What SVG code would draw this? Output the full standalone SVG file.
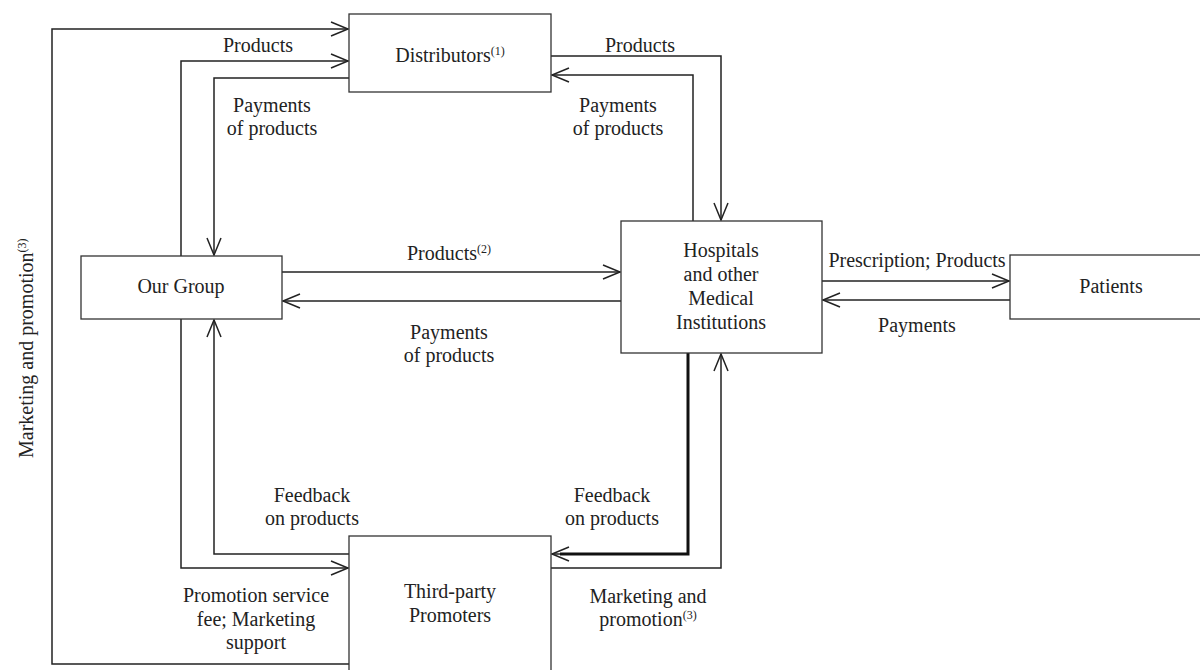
<svg xmlns="http://www.w3.org/2000/svg" width="1200" height="670" viewBox="0 0 1200 670">
<style>
.box{fill:#fff;stroke:#333;stroke-width:1.3}
.ln{fill:none;stroke:#222;stroke-width:1.5}
.thick{fill:none;stroke:#111;stroke-width:3}
text{font-family:'Liberation Serif','Times New Roman',serif;font-size:20px;fill:#222}
.c{text-anchor:middle}
.sup{font-size:12px}
</style>
<defs>
<marker id="ah" viewBox="0 0 20 16" refX="18" refY="8" markerWidth="20" markerHeight="16" markerUnits="userSpaceOnUse" orient="auto">
<path d="M1,1 L18,8 L1,15" fill="none" stroke="#222" stroke-width="1.5"/>
</marker>
</defs>
<rect width="1200" height="670" fill="#fff"/>
<g id="connectors">
<path class="ln" d="M349,664 H52 V29 H348" marker-end="url(#ah)"/>
<path class="ln" d="M181,256 V61 H348" marker-end="url(#ah)"/>
<path class="ln" d="M349,78 H214 V255" marker-end="url(#ah)"/>
<path class="ln" d="M551,56 H721 V220" marker-end="url(#ah)"/>
<path class="ln" d="M693,221 V75 H552" marker-end="url(#ah)"/>
<path class="ln" d="M282,272 H620" marker-end="url(#ah)"/>
<path class="ln" d="M621,301 H283" marker-end="url(#ah)"/>
<path class="ln" d="M822,281 H1009" marker-end="url(#ah)"/>
<path class="ln" d="M1010,300 H823" marker-end="url(#ah)"/>
<path class="ln" d="M181,319 V568 H348" marker-end="url(#ah)"/>
<path class="ln" d="M349,554 H214 V320" marker-end="url(#ah)"/>
<path class="thick" d="M688,353 V554 H560"/>
<path class="ln" d="M560,554 H552" marker-end="url(#ah)"/>
<path class="ln" d="M551,568 H721 V354" marker-end="url(#ah)"/>
</g>
<g id="labels">
<text class="c" x="258" y="52">Products</text>
<text class="c" x="272" y="112">Payments</text>
<text class="c" x="272" y="135">of products</text>
<text class="c" x="640" y="52">Products</text>
<text class="c" x="618" y="112">Payments</text>
<text class="c" x="618" y="135">of products</text>
<text class="c" x="449" y="260">Products<tspan class="sup" dy="-7">(2)</tspan></text>
<text class="c" x="449" y="339">Payments</text>
<text class="c" x="449" y="362">of products</text>
<text class="c" x="917" y="267">Prescription; Products</text>
<text class="c" x="917" y="332">Payments</text>
<text class="c" x="312" y="502">Feedback</text>
<text class="c" x="312" y="525">on products</text>
<text class="c" x="612" y="502">Feedback</text>
<text class="c" x="612" y="525">on products</text>
<text class="c" x="256" y="602">Promotion service</text>
<text class="c" x="256" y="626">fee; Marketing</text>
<text class="c" x="256" y="649">support</text>
<text class="c" x="648" y="603">Marketing and</text>
<text class="c" x="648" y="626">promotion<tspan class="sup" dy="-7">(3)</tspan></text>
<text transform="translate(33,458) rotate(-90)">Marketing and promotion<tspan class="sup" dy="-7">(3)</tspan></text>
</g>
<g id="distributors">
<rect class="box" x="349" y="14" width="202" height="78"/>
<text class="c" x="450" y="62">Distributors<tspan class="sup" dy="-7">(1)</tspan></text>
</g>
<g id="our-group">
<rect class="box" x="81" y="256" width="201" height="63"/>
<text class="c" x="181" y="293">Our Group</text>
</g>
<g id="hospitals">
<rect class="box" x="621" y="221" width="201" height="132"/>
<text class="c" x="721" y="257">Hospitals</text>
<text class="c" x="721" y="281">and other</text>
<text class="c" x="721" y="305">Medical</text>
<text class="c" x="721" y="329">Institutions</text>
</g>
<g id="patients">
<rect class="box" x="1010" y="255" width="202" height="64"/>
<text class="c" x="1111" y="293">Patients</text>
</g>
<g id="promoters">
<rect class="box" x="349" y="536" width="202" height="140"/>
<text class="c" x="450" y="598">Third-party</text>
<text class="c" x="450" y="622">Promoters</text>
</g>
</svg>
